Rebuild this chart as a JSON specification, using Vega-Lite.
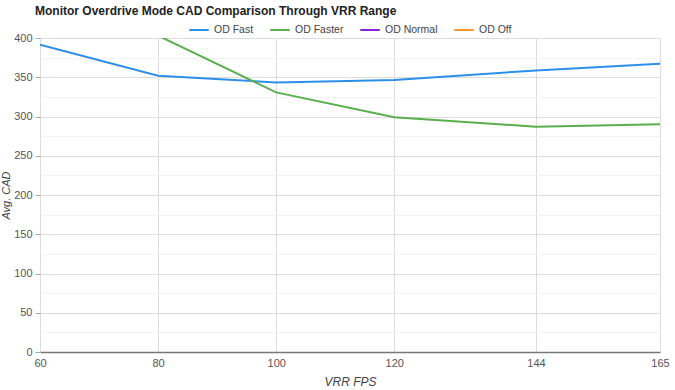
{
  "$schema": "https://vega.github.io/schema/vega-lite/v6.json",
  "autosize": {"type": "none"},
  "padding": {"left": 40, "top": 38, "right": 15, "bottom": 38},
  "width": 620,
  "height": 314,
  "background": "white",
  "config": {
    "font": "Liberation Sans",
    "view": {"stroke": null}
  },
  "title": {
    "text": "Monitor Overdrive Mode CAD Comparison Through VRR Range",
    "anchor": "start",
    "frame": "group",
    "dx": -5,
    "dy": 21,
    "offset": 22,
    "fontSize": 12,
    "fontWeight": "bold",
    "color": "#222222",
    "font": "Liberation Sans"
  },
  "data": {
    "values": [
      {"fps": 60, "series": "OD Fast", "cad": 391.5},
      {"fps": 80, "series": "OD Fast", "cad": 352},
      {"fps": 100, "series": "OD Fast", "cad": 343.4},
      {"fps": 120, "series": "OD Fast", "cad": 346.5},
      {"fps": 144, "series": "OD Fast", "cad": 358.7},
      {"fps": 165, "series": "OD Fast", "cad": 367.3},
      {"fps": 80, "series": "OD Faster", "cad": 403},
      {"fps": 100, "series": "OD Faster", "cad": 330.7},
      {"fps": 120, "series": "OD Faster", "cad": 299},
      {"fps": 144, "series": "OD Faster", "cad": 287},
      {"fps": 165, "series": "OD Faster", "cad": 290}
    ]
  },
  "mark": {"type": "line", "strokeWidth": 2, "clip": true},
  "encoding": {
    "x": {
      "field": "fps",
      "type": "quantitative",
      "scale": {"domain": [60, 165], "nice": false, "zero": false},
      "axis": {
        "values": [60, 80, 100, 120, 144, 165],
        "title": "VRR FPS",
        "titleFontStyle": "italic",
        "titleFontWeight": "normal",
        "titleFontSize": 12,
        "titleColor": "#444444",
        "titlePadding": 8,
        "labelFontSize": 11,
        "labelColor": "#555555",
        "labelPadding": 5,
        "ticks": false,
        "domainColor": "#777777",
        "domainWidth": 1.5,
        "gridColor": "#dddddd",
        "gridWidth": 1,
        "labelFlush": false
      }
    },
    "y": {
      "field": "cad",
      "type": "quantitative",
      "scale": {"domain": [0, 400], "nice": false},
      "axis": {
        "values": [0, 25, 50, 75, 100, 125, 150, 175, 200, 225, 250, 275, 300, 325, 350, 375, 400],
        "labelExpr": "datum.value % 50 === 0 ? datum.label : ''",
        "title": "Avg. CAD",
        "titleFontStyle": "italic",
        "titleFontWeight": "normal",
        "titleFontSize": 11,
        "titleColor": "#444444",
        "titlePadding": 2,
        "labelFontSize": 11,
        "labelColor": "#555555",
        "labelPadding": 3,
        "domain": false,
        "tickSize": 5,
        "tickColor": "#aaaaaa",
        "tickOpacity": {"condition": {"test": "datum.value % 50 === 0", "value": 1}, "value": 0},
        "gridColor": {"condition": {"test": "datum.value % 50 === 0", "value": "#dddddd"}, "value": "#f3f3f3"}
      }
    },
    "color": {
      "field": "series",
      "type": "nominal",
      "scale": {
        "domain": ["OD Fast", "OD Faster", "OD Normal", "OD Off"],
        "range": ["#2E8FE8", "#5AAE4E", "#8B22D6", "#F39A2A"]
      },
      "legend": {
        "title": null,
        "orient": "none",
        "direction": "horizontal",
        "legendX": 148,
        "legendY": -19,
        "gridAlign": "none",
        "symbolType": "stroke",
        "symbolSize": 380,
        "symbolStrokeWidth": 2,
        "labelFontSize": 10.5,
        "labelColor": "#444444",
        "labelOffset": 4,
        "columnPadding": 12,
        "padding": 0
      }
    }
  }
}
